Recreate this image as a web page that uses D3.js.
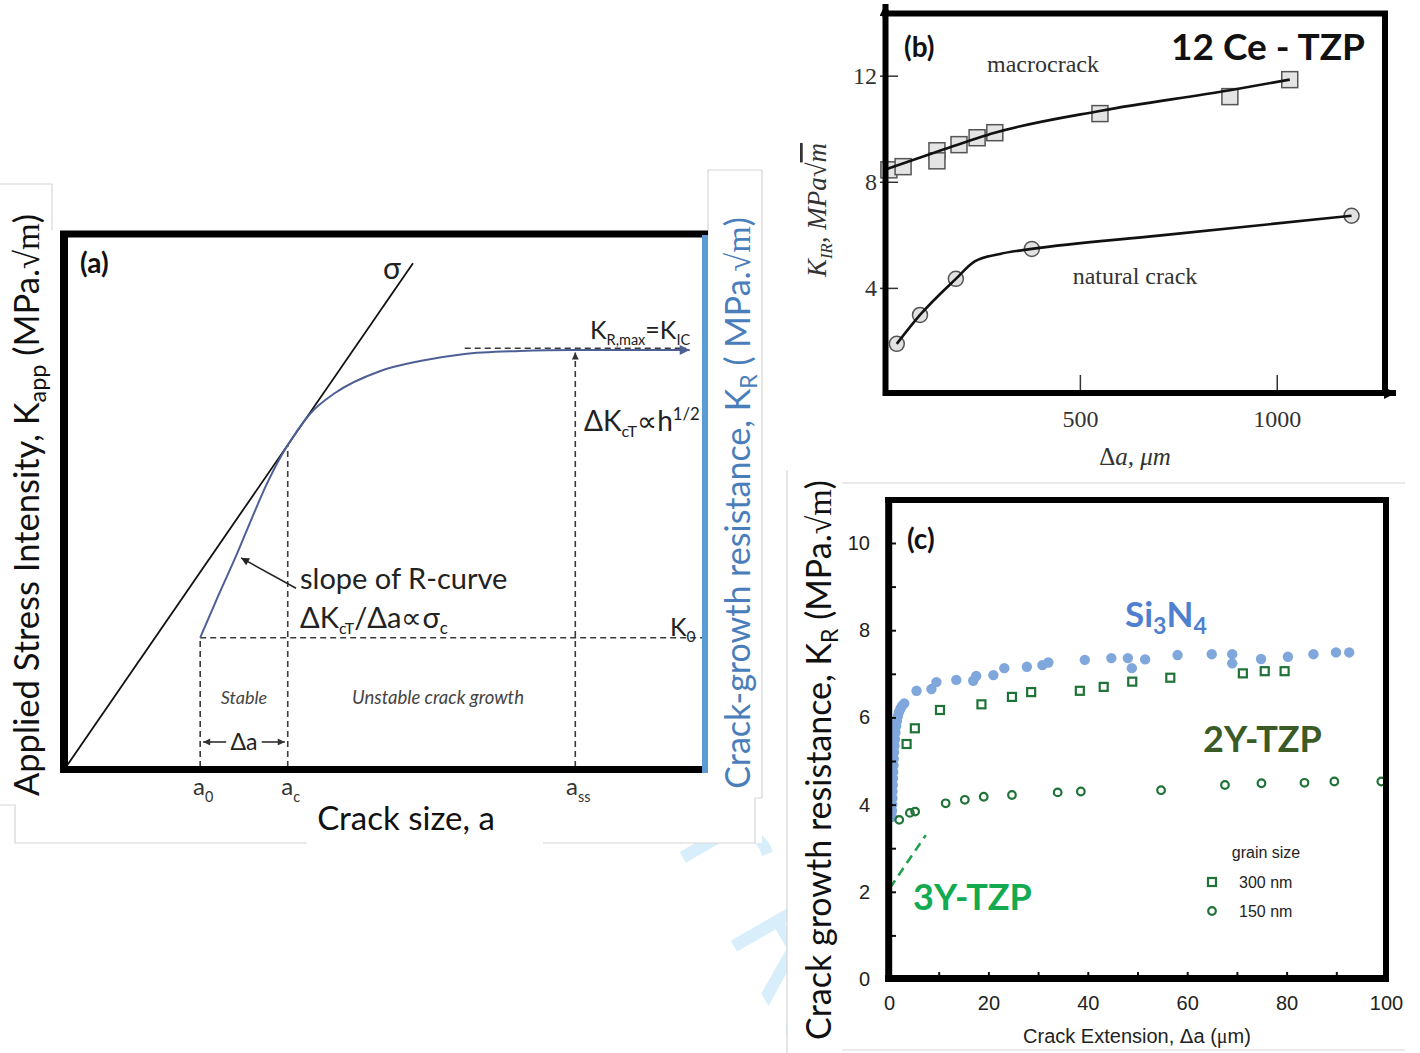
<!DOCTYPE html>
<html>
<head>
<meta charset="utf-8">
<script src="https://cdn.jsdelivr.net/npm/d3@7"></script>
<style>
  body { margin: 0; background: #fff; }
  svg { display: block; }
</style>
</head>
<body>
<script>
// ---------- Panel (a): schematic R-curve, arbitrary units 0–100 ----------
const aAppliedLine = [[0, 0], [54.3, 94.7]];            // K_app = σ·√(πa) line
const aRCurve = [[21, 24.3], [23.8, 32.1], [26.8, 40.2], [29.1, 46.8], [31.5, 53.4],
                 [33.5, 58.1], [35.4, 61.8], [38.2, 66.4], [42.1, 70.3], [49.1, 74.4],
                 [55.4, 76.3], [62.1, 77.6], [71, 78.2], [79.3, 78.4], [89.8, 78.4], [97.6, 78.4]];
const a0 = 21, ac = 34.7, ass = 79.7;                   // crack sizes
const K0 = 24.3, KRmax = 78.4;                          // toughness levels
const KmaxDashStart = 62.4;

// ---------- Panel (b): 12Ce-TZP, K_IR vs Δa (µm) ----------
const bMacrocrack = [[15, 8.45], [51, 8.57], [137, 9.17], [137, 8.79], [193, 9.4],
                     [239, 9.66], [284, 9.85], [551, 10.57], [881, 11.21], [1033, 11.85]];
const bMacroFit = [[4, 8.45], [137, 9.13], [284, 9.85], [554, 10.68], [881, 11.45], [1033, 11.85]];
const bNatural = [[35, 1.89], [94, 2.98], [185, 4.34], [378, 5.47], [1190, 6.72]];
const bNaturalFit = [[35, 1.89], [94, 2.98], [185, 4.34], [233, 5.0], [297, 5.28],
                     [378, 5.47], [700, 5.97], [1190, 6.72]];
const bYTicks = [4, 8, 12];
const bXTicks = [500, 1000];

// ---------- Panel (c): K_R vs crack extension (µm) ----------
const cSi3N4 = [[0.6, 3.72], [0.6, 3.86], [0.65, 4.0], [0.7, 4.15], [0.7, 4.3], [0.75, 4.45],
                [0.8, 4.6], [0.85, 4.75], [0.9, 4.9], [0.95, 5.05], [1.0, 5.2], [1.1, 5.35],
                [1.2, 5.5], [1.3, 5.65], [1.45, 5.8], [1.6, 5.92], [1.8, 6.03], [2.0, 6.12],
                [2.3, 6.2], [2.6, 6.26], [3.06, 6.32], [5.54, 6.61], [8.54, 6.65], [9.54, 6.81],
                [13.54, 6.86], [16.94, 6.84], [17.54, 6.95], [21.0, 6.97], [23.2, 7.13],
                [27.74, 7.16], [30.86, 7.2], [32.06, 7.26], [39.4, 7.32], [44.74, 7.36],
                [48.06, 7.36], [48.86, 7.13], [51.54, 7.33], [58.06, 7.43], [64.94, 7.45],
                [69.06, 7.45], [69.06, 7.24], [74.86, 7.34], [80.26, 7.39], [85.4, 7.45],
                [89.94, 7.49], [92.6, 7.49]];
const c2YTZP = [[3.54, 5.39], [5.2, 5.75], [10.26, 6.17], [18.6, 6.3], [24.74, 6.47],
                [28.6, 6.58], [38.4, 6.61], [43.2, 6.7], [48.94, 6.82], [56.6, 6.91],
                [71.2, 7.01], [75.6, 7.06], [79.6, 7.06]];
const c3YTZP = [[2.06, 3.65], [4.2, 3.81], [5.26, 3.84], [11.4, 4.03], [15.26, 4.11],
                [19.06, 4.18], [24.74, 4.22], [33.94, 4.28], [38.6, 4.3], [54.74, 4.33],
                [67.6, 4.45], [74.94, 4.49], [83.6, 4.5], [89.6, 4.53], [99.06, 4.53]];
const c3YTrend = [[0.2, 2.09], [7.4, 3.3]];
const cXTicks = d3.range(0, 101, 10);
const cYTicks = d3.range(0, 11, 1);

// ---------- fonts & colours ----------
const SANS = "Lato, 'Open Sans', sans-serif";
const ARIAL = "'Liberation Sans', Arial, sans-serif";
const SERIF = "'Liberation Serif', 'DejaVu Serif', serif";
const BLUE_LABEL = "#4a7ebb";

const svg = d3.select("body").append("svg").attr("width", 1420).attr("height", 1053);
const defs = svg.append("defs");

function marker(id, color, w, h) {
  defs.append("marker").attr("id", id)
    .attr("viewBox", "0 0 10 10").attr("refX", 10).attr("refY", 5)
    .attr("markerWidth", w).attr("markerHeight", h)
    .attr("markerUnits", "userSpaceOnUse").attr("orient", "auto")
    .append("path").attr("d", "M0,0 L10,5 L0,10 z").attr("fill", color);
}
marker("arrDark", "#222", 10, 8);
marker("arrSmall", "#333", 8, 7);
marker("arrBlue", "#4e5f96", 13, 10);
marker("arrAxis", "#000", 14, 12);

// text with sub/superscripts; parts are strings or {t, sub|sup, family, style, deco}
function rich(g, x, y, parts, o) {
  const t = g.append("text").attr("x", x).attr("y", y)
    .attr("font-family", o.family).attr("font-size", o.size)
    .attr("fill", o.fill || "#222").attr("text-anchor", o.anchor || "start");
  if (o.weight) t.attr("font-weight", o.weight);
  if (o.style) t.attr("font-style", o.style);
  if (o.rotate) t.attr("transform", `rotate(${o.rotate},${x},${y})`);
  let shift = 0;
  parts.forEach(p => {
    const q = typeof p === "string" ? { t: p } : p;
    const s = t.append("tspan").text(q.t);
    let target = 0, fs = o.size;
    if (q.sub) { target = o.size * (q.shift || 0.22); fs = o.size * (q.scale || 0.62); }
    if (q.sup) { target = -o.size * (q.shift || 0.38); fs = o.size * (q.scale || 0.62); }
    if (target !== shift) { s.attr("dy", target - shift); shift = target; }
    if (fs !== o.size) s.attr("font-size", fs);
    if (q.family) s.attr("font-family", q.family);
    if (q.style) s.attr("font-style", q.style);
    if (q.deco) s.attr("text-decoration", q.deco);
  });
  return t;
}

// ---------- page background: faint watermark, then white panel cards ----------
svg.append("text")
  .attr("transform", "translate(410,385) rotate(60)")
  .attr("font-family", "'Open Sans', sans-serif").attr("font-size", 150)
  .attr("fill", "#d8effb").text("For Peer Review");

svg.append("rect").attr("x", 0).attr("y", 170).attr("width", 762).attr("height", 673).attr("fill", "#fff");
svg.append("rect").attr("x", 785).attr("y", 0).attr("width", 635).attr("height", 480).attr("fill", "#fff");
svg.append("rect").attr("x", 787).attr("y", 470).attr("width", 633).attr("height", 583).attr("fill", "#fff");

const borders = svg.append("g").attr("fill", "none").attr("stroke", "#d6d6d6").attr("stroke-width", 1.2);
borders.append("path").attr("d", "M52,230 L52,184 L0,184");
borders.append("path").attr("d", "M0,805 L15,805 L15,843 L307,843");
borders.append("path").attr("d", "M708,234 L708,170 L762,170 L762,798 L755,798 L755,843 L543,843");
borders.append("path").attr("d", "M787,470 L787,1053");
borders.append("path").attr("d", "M842,483 L1405,483");
borders.append("path").attr("d", "M842,1050 L1405,1050");

// =====================================================================
// Panel (a)
// =====================================================================
const xa = d3.scaleLinear().domain([0, 100]).range([66, 705]);
const ya = d3.scaleLinear().domain([0, 100]).range([767, 235]);
const ga = svg.append("g");
const lineA = d3.line().x(d => xa(d[0])).y(d => ya(d[1]));

// dashed guides
const dash = ga.append("g").attr("stroke", "#3a3a3a").attr("stroke-width", 1.6)
  .attr("stroke-dasharray", "6,4").attr("fill", "none");
dash.append("path").attr("d", lineA([[a0, K0], [100, K0]]));
dash.append("path").attr("d", lineA([[a0, 0], [a0, K0]]));
dash.append("path").attr("d", lineA([[ac, 0], [ac, 60.5]]));
dash.append("path").attr("d", lineA([[ass, 0], [ass, KRmax - 0.5]])).attr("marker-end", "url(#arrSmall)");
dash.append("path").attr("d", lineA([[KmaxDashStart, KRmax + 0.3], [97, KRmax + 0.3]]));

// applied stress intensity line and R-curve
ga.append("path").attr("d", lineA(aAppliedLine)).attr("stroke", "#111").attr("stroke-width", 1.8).attr("fill", "none");
ga.append("path").attr("d", d3.line().x(d => xa(d[0])).y(d => ya(d[1])).curve(d3.curveMonotoneX)(aRCurve))
  .attr("stroke", "#4e5f96").attr("stroke-width", 2).attr("fill", "none").attr("marker-end", "url(#arrBlue)");

// pointer to the R-curve slope
ga.append("path").attr("d", lineA([[36.0, 33.6], [27.4, 39.3]]))
  .attr("stroke", "#222").attr("stroke-width", 1.5).attr("fill", "none").attr("marker-end", "url(#arrDark)");

// Δa span arrows
const yDa = ya(4.7);
ga.append("line").attr("x1", xa(a0) + 26).attr("x2", xa(a0) + 3).attr("y1", yDa).attr("y2", yDa)
  .attr("stroke", "#222").attr("stroke-width", 1.5).attr("marker-end", "url(#arrSmall)");
ga.append("line").attr("x1", xa(ac) - 26).attr("x2", xa(ac) - 3).attr("y1", yDa).attr("y2", yDa)
  .attr("stroke", "#222").attr("stroke-width", 1.5).attr("marker-end", "url(#arrSmall)");
ga.append("text").attr("x", (xa(a0) + xa(ac)) / 2).attr("y", yDa + 8).attr("text-anchor", "middle")
  .attr("font-family", SANS).attr("font-size", 23).attr("fill", "#222").text("Δa");

// frame
ga.append("line").attr("x1", 60).attr("x2", 708).attr("y1", 234).attr("y2", 234).attr("stroke", "#000").attr("stroke-width", 7);
ga.append("line").attr("x1", 64).attr("x2", 64).attr("y1", 231).attr("y2", 773).attr("stroke", "#000").attr("stroke-width", 8);
ga.append("line").attr("x1", 60).attr("x2", 705).attr("y1", 769.5).attr("y2", 769.5).attr("stroke", "#000").attr("stroke-width", 7);
ga.append("line").attr("x1", 705).attr("x2", 705).attr("y1", 235).attr("y2", 773).attr("stroke", "#5b9bd5").attr("stroke-width", 6);

// labels inside (a)
ga.append("text").attr("x", 80).attr("y", 273).attr("font-family", SANS).attr("font-weight", 700)
  .attr("font-size", 28).attr("fill", "#111").text("(a)");
ga.append("text").attr("x", 392).attr("y", 279).attr("text-anchor", "middle").attr("font-family", SANS)
  .attr("font-size", 30).attr("fill", "#222").text("σ");
rich(ga, 590, 339, ["K", { t: "R,max", sub: true, scale: 0.58 }, "=K", { t: "IC", sub: true, scale: 0.58 }],
  { family: SANS, size: 25, fill: "#222" });
rich(ga, 584, 431, ["ΔK", { t: "cT", sub: true, scale: 0.58 }, "∝h", { t: "1/2", sup: true, scale: 0.6 }],
  { family: SANS, size: 28, fill: "#222" });
ga.append("text").attr("x", 300).attr("y", 589).attr("font-family", SANS).attr("font-size", 29)
  .attr("fill", "#222").text("slope of R-curve");
rich(ga, 300, 628, ["ΔK", { t: "cT", sub: true, scale: 0.55 }, "/Δa∝σ", { t: "c", sub: true, scale: 0.58 }],
  { family: SANS, size: 29, fill: "#222" });
rich(ga, 670, 636, ["K", { t: "0", sub: true, scale: 0.62 }], { family: SANS, size: 25, fill: "#222" });
ga.append("text").attr("x", (xa(a0) + xa(ac)) / 2).attr("y", 704).attr("text-anchor", "middle")
  .attr("font-family", SANS).attr("font-style", "italic").attr("font-size", 18).attr("fill", "#444").text("Stable");
ga.append("text").attr("x", 438).attr("y", 704).attr("text-anchor", "middle")
  .attr("font-family", SANS).attr("font-style", "italic").attr("font-size", 18.5).attr("fill", "#444").text("Unstable crack growth");

// crack-size tick labels
[[a0, "0"], [ac, "c"], [ass, "ss"]].forEach(([v, s]) => {
  rich(ga, xa(v) + 3, 795, ["a", { t: s, sub: true, scale: 0.6, shift: 0.3 }],
    { family: SANS, size: 24, fill: "#333", anchor: "middle" });
});
ga.append("text").attr("x", 406).attr("y", 830).attr("text-anchor", "middle").attr("font-family", SANS)
  .attr("font-size", 33).attr("fill", "#111").text("Crack size, a");

rich(ga, 39, 505, ["Applied Stress Intensity, K", { t: "app", sub: true, scale: 0.68, shift: 0.2 }, " (MPa.",
  { t: "√m", family: SERIF }, ")"], { family: SANS, size: 34.5, fill: "#111", anchor: "middle", rotate: -90 });
rich(ga, 750, 503, ["Crack-growth resistance, K", { t: "R", sub: true, scale: 0.68, shift: 0.2 }, " ( MPa.",
  { t: "√m", family: SERIF }, ")"], { family: SANS, size: 34, fill: BLUE_LABEL, anchor: "middle", rotate: -90 });

// =====================================================================
// Panel (b)
// =====================================================================
const xb = d3.scaleLinear().domain([0, 1280]).range([883, 1387]);
const yb = d3.scaleLinear().domain([0, 14.4]).range([394, 12]);
const gb = svg.append("g");

// markers first, fitted curves drawn over them
gb.selectAll("rect.sq").data(bMacrocrack).join("rect")
  .attr("x", d => xb(d[0]) - 8).attr("y", d => yb(d[1]) - 8).attr("width", 16).attr("height", 16)
  .attr("fill", "#e4e4e4").attr("stroke", "#555").attr("stroke-width", 1.5);
gb.selectAll("circle.nat").data(bNatural).join("circle")
  .attr("cx", d => xb(d[0])).attr("cy", d => yb(d[1])).attr("r", 7.5)
  .attr("fill", "#e2e2e2").attr("stroke", "#555").attr("stroke-width", 1.5);
const lineB = d3.line().x(d => xb(d[0])).y(d => yb(d[1])).curve(d3.curveMonotoneX);
gb.append("path").attr("d", lineB(bMacroFit)).attr("stroke", "#111").attr("stroke-width", 2.6).attr("fill", "none");
gb.append("path").attr("d", lineB(bNaturalFit)).attr("stroke", "#111").attr("stroke-width", 2.6).attr("fill", "none");

// axes
const byAxis = gb.append("g").attr("transform", `translate(${xb(0) + 2},0)`)
  .call(d3.axisLeft(yb).tickValues(bYTicks).tickSize(6).tickPadding(6));
byAxis.select(".domain").remove();
byAxis.selectAll("line").attr("x2", -5).attr("x1", 13).attr("stroke", "#333").attr("stroke-width", 1.5);
byAxis.selectAll("text").attr("font-family", SERIF).attr("font-size", 24).attr("fill", "#333").attr("x", -8);

const bxAxis = gb.append("g").attr("transform", `translate(0,${yb(0)})`)
  .call(d3.axisBottom(xb).tickValues(bXTicks).tickFormat(d3.format("d")).tickSize(-19).tickPadding(16));
bxAxis.select(".domain").remove();
bxAxis.selectAll("line").attr("stroke", "#333").attr("stroke-width", 1.5);
bxAxis.selectAll("text").attr("font-family", SERIF).attr("font-size", 24).attr("fill", "#333");

// frame with arrowheads on the axes
gb.append("line").attr("x1", 882).attr("x2", 1388).attr("y1", 13.5).attr("y2", 13.5).attr("stroke", "#000").attr("stroke-width", 6);
gb.append("line").attr("x1", 1385).attr("x2", 1385).attr("y1", 11).attr("y2", 395).attr("stroke", "#000").attr("stroke-width", 6);
gb.append("line").attr("x1", 885.5).attr("x2", 885.5).attr("y1", 396).attr("y2", 4)
  .attr("stroke", "#000").attr("stroke-width", 6).attr("marker-end", "url(#arrAxis)");
gb.append("line").attr("x1", 883).attr("x2", 1396).attr("y1", 393).attr("y2", 393)
  .attr("stroke", "#000").attr("stroke-width", 6).attr("marker-end", "url(#arrAxis)");

gb.append("text").attr("x", 904).attr("y", 57).attr("font-family", SANS).attr("font-weight", 700)
  .attr("font-size", 28).attr("fill", "#111").text("(b)");
gb.append("text").attr("x", 1043).attr("y", 72).attr("text-anchor", "middle").attr("font-family", SERIF)
  .attr("font-size", 24).attr("fill", "#333").text("macrocrack");
gb.append("text").attr("x", 1268).attr("y", 60).attr("text-anchor", "middle").attr("font-family", SANS)
  .attr("font-weight", 700).attr("font-size", 37).attr("fill", "#111").text("12 Ce - TZP");
gb.append("text").attr("x", 1135).attr("y", 284).attr("text-anchor", "middle").attr("font-family", SERIF)
  .attr("font-size", 24).attr("fill", "#333").text("natural crack");
rich(gb, 1135, 465, ["Δ", { t: "a, μm", style: "italic" }], { family: SERIF, size: 25, fill: "#333", anchor: "middle" });
rich(gb, 826, 210, ["K", { t: "IR", sub: true, scale: 0.62 }, ", MPa√", { t: "m", deco: "overline" }],
  { family: SERIF, size: 27, fill: "#333", anchor: "middle", rotate: -90, style: "italic" });

// =====================================================================
// Panel (c)
// =====================================================================
const xc = d3.scaleLinear().domain([0, 100]).range([889, 1386]);
const yc = d3.scaleLinear().domain([0, 11]).range([979, 499.4]);
const gc = svg.append("g");

gc.append("path").attr("d", d3.line().x(d => xc(d[0])).y(d => yc(d[1]))(c3YTrend))
  .attr("stroke", "#23a04f").attr("stroke-width", 2.6).attr("stroke-dasharray", "9,6").attr("fill", "none");
gc.selectAll("circle.si").data(cSi3N4).join("circle")
  .attr("cx", d => xc(d[0])).attr("cy", d => yc(d[1])).attr("r", 5.2).attr("fill", "#7fa7dc");
gc.selectAll("rect.y2").data(c2YTZP).join("rect")
  .attr("x", d => xc(d[0]) - 4).attr("y", d => yc(d[1]) - 4).attr("width", 8).attr("height", 8)
  .attr("fill", "none").attr("stroke", "#1f7336").attr("stroke-width", 2.2);
gc.selectAll("circle.y3").data(c3YTZP).join("circle")
  .attr("cx", d => xc(d[0])).attr("cy", d => yc(d[1])).attr("r", 3.8)
  .attr("fill", "none").attr("stroke", "#1f7336").attr("stroke-width", 2.2);

// axes with inward ticks
const cx = gc.append("g").attr("transform", `translate(0,${yc(0)})`)
  .call(d3.axisBottom(xc).tickValues(cXTicks).tickFormat(d => d % 20 === 0 ? d : "").tickSize(-7).tickPadding(17));
cx.select(".domain").remove();
cx.selectAll("line").attr("stroke", "#111").attr("stroke-width", 2);
cx.selectAll("text").attr("font-family", ARIAL).attr("font-size", 20).attr("fill", "#222");
const cy = gc.append("g").attr("transform", `translate(${xc(0)},0)`)
  .call(d3.axisLeft(yc).tickValues(cYTicks).tickFormat(d => d % 2 === 0 ? d : "").tickSize(-7).tickPadding(19));
cy.select(".domain").remove();
cy.selectAll("line").attr("stroke", "#111").attr("stroke-width", 2);
cy.selectAll("text").attr("font-family", ARIAL).attr("font-size", 20).attr("fill", "#222");

// frame
gc.append("line").attr("x1", 885).attr("x2", 1389).attr("y1", 500).attr("y2", 500).attr("stroke", "#000").attr("stroke-width", 6);
gc.append("line").attr("x1", 1386).attr("x2", 1386).attr("y1", 497).attr("y2", 982).attr("stroke", "#000").attr("stroke-width", 6);
gc.append("line").attr("x1", 888.7).attr("x2", 888.7).attr("y1", 497).attr("y2", 982).attr("stroke", "#000").attr("stroke-width", 7);
gc.append("line").attr("x1", 885).attr("x2", 1389).attr("y1", 978.5).attr("y2", 978.5).attr("stroke", "#000").attr("stroke-width", 7);

gc.append("text").attr("x", 907).attr("y", 549).attr("font-family", SANS).attr("font-weight", 700)
  .attr("font-size", 28).attr("fill", "#111").text("(c)");
rich(gc, 1125, 627, ["Si", { t: "3", sub: true, scale: 0.66, shift: 0.2 }, "N", { t: "4", sub: true, scale: 0.66, shift: 0.2 }],
  { family: SANS, size: 35, fill: "#4f7fcf", weight: 700 });
gc.append("text").attr("x", 1203).attr("y", 752).attr("font-family", SANS).attr("font-weight", 700)
  .attr("font-size", 36).attr("fill", "#3a5a26").text("2Y-TZP");
gc.append("text").attr("x", 913).attr("y", 910).attr("font-family", SANS).attr("font-weight", 700)
  .attr("font-size", 36).attr("fill", "#13aa50").text("3Y-TZP");

// legend
gc.append("text").attr("x", 1266).attr("y", 858).attr("text-anchor", "middle").attr("font-family", ARIAL)
  .attr("font-size", 16).attr("fill", "#222").text("grain size");
gc.append("rect").attr("x", 1208).attr("y", 878).attr("width", 8).attr("height", 8)
  .attr("fill", "none").attr("stroke", "#1f7336").attr("stroke-width", 2.2);
gc.append("text").attr("x", 1239).attr("y", 888).attr("font-family", ARIAL).attr("font-size", 16).attr("fill", "#222").text("300 nm");
gc.append("circle").attr("cx", 1212).attr("cy", 911).attr("r", 3.8)
  .attr("fill", "none").attr("stroke", "#1f7336").attr("stroke-width", 2.2);
gc.append("text").attr("x", 1239).attr("y", 917).attr("font-family", ARIAL).attr("font-size", 16).attr("fill", "#222").text("150 nm");

rich(gc, 1137, 1043, ["Crack Extension, ", { t: "Δ", family: "'DejaVu Sans', sans-serif" }, "a (", { t: "μ", family: SERIF }, "m)"],
  { family: ARIAL, size: 20, fill: "#222", anchor: "middle" });
rich(gc, 831, 760, ["Crack growth resistance, K", { t: "R", sub: true, scale: 0.68, shift: 0.2 }, " (MPa.",
  { t: "√m", family: SERIF }, ")"], { family: SANS, size: 34, fill: "#111", anchor: "middle", rotate: -90 });
</script>
</body>
</html>
